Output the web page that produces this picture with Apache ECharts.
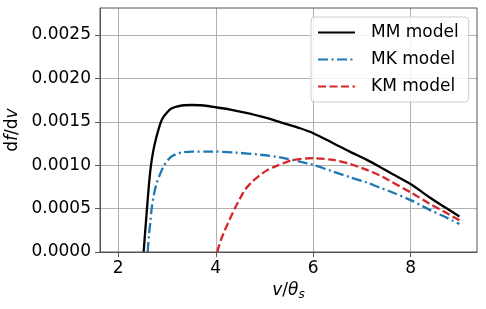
<!DOCTYPE html>
<html>
<head>
<meta charset="utf-8">
<script src="https://cdn.jsdelivr.net/npm/echarts@6/dist/echarts.min.js"></script>
<style>
html,body{margin:0;padding:0;background:#fff;}
#c{width:486px;height:309px;}
</style>
</head>
<body>
<div id="c"></div>
<script>
// ---- data ----
const seriesNames = ['MM model', 'MK model', 'KM model'];
const xTicks = [2, 4, 6, 8];
const yTicks = [0, 0.0005, 0.0010, 0.0015, 0.0020, 0.0025];

const mmV = [2.52, 2.55, 2.589, 2.63, 2.671, 2.72, 2.767, 2.82, 2.876, 2.93, 2.99, 3.08, 3.197, 3.35, 3.51, 3.70, 4.00, 4.30, 4.60, 5.00, 5.35, 5.73, 6.00, 6.41, 6.75, 7.10, 7.37, 7.57, 8.02, 8.39, 8.70, 9.00];
const mmY = [0, 0.00022, 0.0005, 0.00078, 0.001, 0.00117, 0.00129, 0.0014, 0.0015, 0.00156, 0.0016, 0.00165, 0.001674, 0.00169, 0.001693, 0.00169, 0.001667, 0.00164, 0.001605, 0.00155, 0.00149, 0.001425, 0.001368, 0.001253, 0.001156, 0.001061, 0.00098, 0.000915, 0.000774, 0.000628, 0.000515, 0.00041];

const mkV = [2.603, 2.63, 2.66, 2.685, 2.73, 2.788, 2.86, 2.944, 3.02, 3.09, 3.20, 3.30, 3.51, 3.90, 4.40, 4.91, 5.32, 5.73, 6.00, 6.41, 6.75, 7.10, 7.37, 7.54, 8.02, 8.39, 8.70, 9.00];
const mkY = [0, 0.0002, 0.00035, 0.0005, 0.00066, 0.000793, 0.0009, 0.001, 0.00106, 0.0011, 0.00113, 0.001145, 0.001157, 0.001157, 0.001145, 0.00112, 0.00109, 0.00104, 0.001003, 0.000926, 0.000862, 0.0008, 0.00074, 0.000705, 0.000592, 0.000485, 0.000405, 0.000322];

const kmV = [4.03, 4.10, 4.19, 4.29, 4.39, 4.50, 4.60, 4.73, 4.87, 5.05, 5.25, 5.59, 6.00, 6.41, 6.75, 7.10, 7.37, 7.54, 8.02, 8.39, 8.70, 9.00];
const kmY = [0, 0.00013, 0.000256, 0.00038, 0.0005, 0.00062, 0.000716, 0.0008, 0.000869, 0.00094, 0.000992, 0.00106, 0.00108, 0.00106, 0.001015, 0.000946, 0.00088, 0.00083, 0.00068, 0.000555, 0.00046, 0.000365];

const pairs = (xs, ys) => xs.map((x, i) => [x, ys[i]]);

const FONT = 'DejaVu Sans';
const chart = echarts.init(document.getElementById('c'), null, {renderer: 'canvas'});

const lineBase = {
  type: 'line', showSymbol: false, symbol: 'none', smooth: 0.3, animation: false, z: 3
};

chart.setOption({
  animation: false,
  backgroundColor: '#fff',
  textStyle: {fontFamily: FONT},
  grid: {left: 100, top: 8, right: 9, bottom: 57, containLabel: false, outerBoundsMode: 'none', show: true, borderColor: '#555', borderWidth: 1, backgroundColor: 'transparent', z: 4},
  xAxis: {
    type: 'value', min: 1.625, max: 9.36,
    name: '{i|v}{n|/}{i|θ}{s|s}', nameLocation: 'middle', nameGap: 26,
    nameTextStyle: {
      rich: {
        i: {fontFamily: FONT, fontSize: 17, fontStyle: 'italic', color: '#000'},
        n: {fontFamily: FONT, fontSize: 17, color: '#000'},
        s: {fontFamily: FONT, fontSize: 12, fontStyle: 'italic', color: '#000', padding: [9, 0, 0, 0]}
      }
    },
    axisLine: {show: true, onZero: false, lineStyle: {color: '#555', width: 1}},
    axisTick: {show: true, length: 5, customValues: xTicks, lineStyle: {color: '#555', width: 1}},
    axisLabel: {customValues: xTicks, margin: 8, fontSize: 17, color: '#000', fontFamily: FONT, formatter: v => String(v)},
    splitLine: {show: true, lineStyle: {color: '#b0b0b0', width: 1}}
  },
  yAxis: {
    type: 'value', min: 0, max: 0.00281,
    name: '{n|d}{i|f}{n|/d}{i|v}', nameLocation: 'middle', nameGap: 76, nameRotate: 90,
    nameTextStyle: {
      rich: {
        i: {fontFamily: FONT, fontSize: 17, fontStyle: 'italic', color: '#000'},
        n: {fontFamily: FONT, fontSize: 17, color: '#000'}
      }
    },
    axisLine: {show: true, lineStyle: {color: '#555', width: 1}},
    axisTick: {show: true, length: 5, customValues: yTicks, lineStyle: {color: '#555', width: 1}},
    axisLabel: {customValues: yTicks, margin: 9, fontSize: 17, color: '#000', fontFamily: FONT, formatter: v => v.toFixed(4)},
    splitLine: {show: true, lineStyle: {color: '#b0b0b0', width: 1}}
  },
  legend: {
    show: true, orient: 'vertical', left: 311, top: 17,
    padding: [7, 10, 7, 6], itemGap: 10, itemWidth: 37, itemHeight: 14,
    backgroundColor: 'rgba(255,255,255,0.85)', borderColor: '#cccccc', borderWidth: 1, borderRadius: 4,
    itemStyle: {opacity: 0},
    textStyle: {fontSize: 17, color: '#000', fontFamily: FONT, padding: [0, 0, 0, 11]},
    data: seriesNames.map(n => ({name: n}))
  },
  series: [
    Object.assign({}, lineBase, {name: seriesNames[0], data: pairs(mmV, mmY), color: '#000000', lineStyle: {color: '#000000', width: 2.3, type: 'solid'}}),
    Object.assign({}, lineBase, {name: seriesNames[1], data: pairs(mkV, mkY), color: '#1f77b4', lineStyle: {color: '#1f77b4', width: 2.3, type: [10, 3.5, 2, 3.5]}}),
    Object.assign({}, lineBase, {name: seriesNames[2], data: pairs(kmV, kmY), color: '#d62728', lineStyle: {color: '#d62728', width: 2.3, type: [8, 3.5]}})
  ]
});
</script>
</body>
</html>
